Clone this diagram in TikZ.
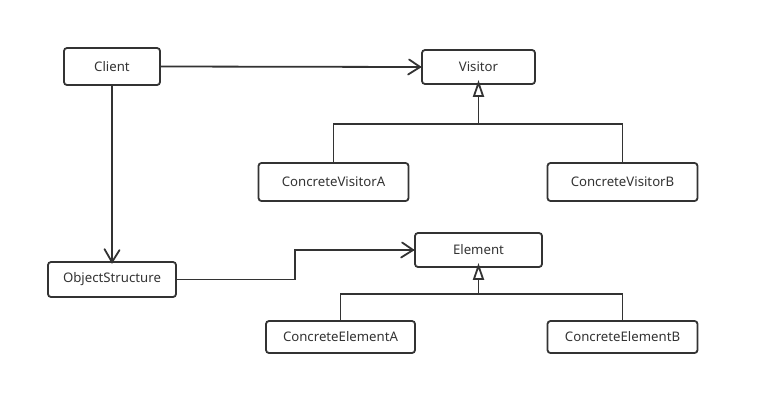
\documentclass[tikz,border=0pt]{standalone}
\usepackage{fontspec}
\setmainfont{Noto Sans}
\definecolor{ink}{HTML}{333333}
\begin{document}
\begin{tikzpicture}[x=1pt,y=-1pt,
  cls/.style={draw=ink,line width=1.8pt,rounded corners=3pt,inner sep=0pt,
    text=ink,font=\fontsize{13.2}{15}\selectfont},
  link/.style={draw=ink,line width=1.8pt},
  barb/.style={draw=ink,line width=1.8pt,line join=miter,line cap=round},
  tri/.style={draw=ink,fill=white,line width=1.8pt,line join=miter}]
\useasboundingbox (0,0) rectangle (759,415);
\node[cls,minimum width=96pt,minimum height=37pt] (client) at (112,66.5) {Client};
\node[cls,minimum width=113pt,minimum height=34pt] (visitor) at (478.5,67) {Visitor};
\node[cls,minimum width=150pt,minimum height=38pt] (cva) at (333.5,182) {ConcreteVisitorA};
\node[cls,minimum width=150pt,minimum height=38pt] (cvb) at (622.5,182) {ConcreteVisitorB};
\node[cls,minimum width=127pt,minimum height=34pt] (element) at (478.5,250) {Element};
\node[cls,minimum width=128pt,minimum height=35pt] (os) at (112,279.5) {ObjectStructure};
\node[cls,minimum width=149pt,minimum height=32pt] (cea) at (340.5,337) {ConcreteElementA};
\node[cls,minimum width=150pt,minimum height=32pt] (ceb) at (622.5,337) {ConcreteElementB};
\coordinate (vbar) at (478.5,124);
\coordinate (ebar) at (478.5,294);
\coordinate (osmid) at (295,279.5);
% associations
\draw[link] (client.east) -- (visitor.west);
\draw[barb] (visitor.west) ++(-12,-7.5) -- ([xshift=-1pt]visitor.west) -- ++(-12,7.5);
\draw[link] (client.south) -- (os.north);
\draw[barb] (os.north) ++(-7.5,-12) -- ([yshift=-1pt]os.north) -- ++(7.5,-12);
\draw[link] (os.east) -- (osmid) |- (element.west);
\draw[barb] (element.west) ++(-12,-7.5) -- ([xshift=-1pt]element.west) -- ++(-12,7.5);
% generalisations
\draw[link] (cva.north) |- (vbar) -- (visitor.south);
\draw[link] (cvb.north) |- (vbar);
\draw[tri] ([yshift=2pt]visitor.south) -- ++(-4.5,13) -- ++(9,0) -- cycle;
\draw[link] (cea.north) |- (ebar) -- (element.south);
\draw[link] (ceb.north) |- (ebar);
\draw[tri] ([yshift=2pt]element.south) -- ++(-4.5,13) -- ++(9,0) -- cycle;
\end{tikzpicture}
\end{document}
